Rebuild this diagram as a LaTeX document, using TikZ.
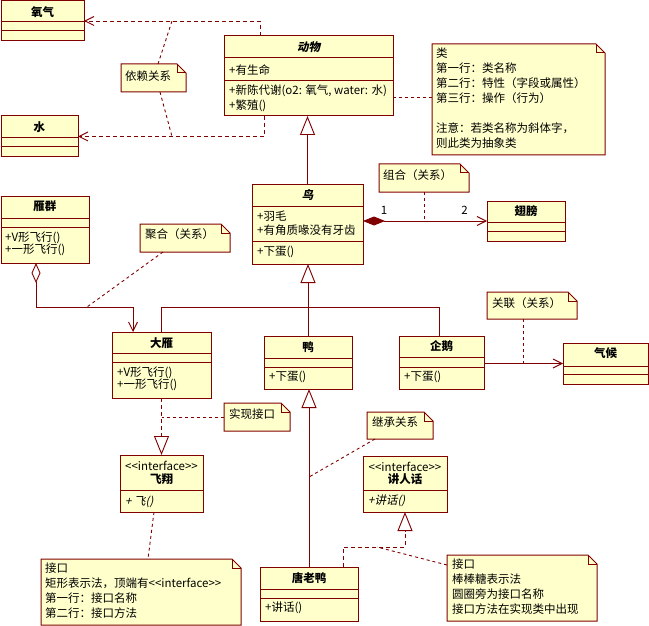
\documentclass[tikz,border=0pt]{standalone}
\usepackage{fontspec}
\setmainfont{Noto Sans CJK SC}
\newfontfamily\slantcjk{Noto Sans CJK SC}[FakeSlant=0.2]
\usetikzlibrary{arrows.meta,calc}

\definecolor{umlred}{RGB}{128,0,0}
\definecolor{umlfill}{RGB}{255,255,204}

\newcommand{\umlfont}{\fontsize{11.5}{15}\selectfont}

% class box: name, x, y, width, height, first divider, second divider
\newcommand{\umlclass}[7]{%
  \node[classbox, minimum width=#4, minimum height=#5] (#1) at (#2,#3) {};
  \draw[boxline] ($(#1.north west)+(0,#6)$) -- ($(#1.north east)+(0,#6)$);
  \draw[boxline] ($(#1.north west)+(0,#7)$) -- ($(#1.north east)+(0,#7)$);
}
% interface box: name, x, y, width, height, divider
\newcommand{\umliface}[6]{%
  \node[classbox, minimum width=#4, minimum height=#5] (#1) at (#2,#3) {};
  \draw[boxline] ($(#1.north west)+(0,#6)$) -- ($(#1.north east)+(0,#6)$);
}
% note with folded corner: name, x, y, width, height
\newcommand{\umlnote}[5]{%
  \node[notebox, minimum width=#4, minimum height=#5] (#1) at (#2,#3) {};
  \draw[boxline, fill=umlfill] (#1.north west) -- ($(#1.north east)+(-9,0)$)
    -- ($(#1.north east)+(0,9)$) -- (#1.south east) -- (#1.south west) -- cycle;
  \draw[boxline] ($(#1.north east)+(-9,0)$) |- ($(#1.north east)+(0,9)$);
}
% stereotype text without guillemet ligatures
\newcommand{\ifacetag}{<{}<interface>{}>}

\begin{document}
\begin{tikzpicture}[
    x=1pt, y=-1pt,
    line join=miter,
    boxline/.style={draw=umlred, line width=1pt},
    classbox/.style={boxline, fill=umlfill, anchor=north west, inner sep=0pt, outer sep=0pt},
    notebox/.style={anchor=north west, inner sep=0pt, outer sep=0pt},
    title/.style={font=\umlfont\bfseries, inner sep=0pt},
    abstitle/.style={font=\umlfont\slantcjk\bfseries, inner sep=0pt},
    member/.style={font=\umlfont, anchor=west, align=left, inner sep=0pt},
    slanted/.style={font=\umlfont\slantcjk},
    stereo/.style={font=\umlfont, inner sep=0pt},
    link/.style={draw=umlred, line width=0.9pt},
    notelink/.style={link, dash pattern=on 3pt off 3pt},
    assoc/.style={link, -{Straight Barb[length=9pt,width=9pt]}},
    depend/.style={assoc, dash pattern=on 4pt off 3pt},
    inherit/.style={link, -{Triangle[open,length=19pt,width=15pt]}},
    realize/.style={inherit, dash pattern=on 4pt off 3pt},
    compose/.style={link, {Diamond[length=22pt,width=9pt]}-{Straight Barb[length=9pt,width=9pt]}},
    aggregate/.style={link, {Diamond[open,length=20pt,width=9pt]}-{Straight Barb[length=9pt,width=9pt]}}
]
\useasboundingbox (0,0) rectangle (649,626);

% -------------------------------------------------
% Классы
% -------------------------------------------------

\umlclass{o2}{1}{1}{83}{40}{21}{30}
\umlclass{water}{1}{116}{77}{41}{22}{31}
\umlclass{animal}{224}{36}{169}{80}{22}{45}
\umlclass{bird}{252}{184}{111}{80}{22}{57}
\umlclass{wing}{487}{201}{78}{40}{21}{30}
\umlclass{flock}{1}{196}{88}{67}{22}{31}
\umlclass{goose}{112}{332}{99}{66}{21}{30}
\umlclass{duck}{264}{336}{88}{53}{22}{31}
\umlclass{penguin}{399}{336}{85}{53}{21}{31}
\umlclass{climate}{563}{343}{85}{41}{23}{31}
\umlclass{donald}{260}{567}{98}{54}{22}{31}

\umliface{fly}{120}{455}{83}{57}{35}
\umliface{speak}{363}{456}{84}{56}{34}

% -------------------------------------------------
% Примечания
% -------------------------------------------------

\umlnote{ndep}{121}{64}{65}{28}
\umlnote{ncls}{432}{44}{173}{111}
\umlnote{ncomp}{379}{164}{90}{28}
\umlnote{naggr}{140}{224}{90}{28}
\umlnote{nassoc}{487}{292}{90}{27}
\umlnote{nreal}{224}{403}{66}{28}
\umlnote{ninh}{367}{412}{66}{27}
\umlnote{nif1}{41}{559}{200}{66}
\umlnote{nif2}{447}{555}{150}{66}

% -------------------------------------------------
% Тексты классов
% -------------------------------------------------

\node[title] (o2-name) at ($(o2.north)+(0,11)$) {氧气};
\node[title] (water-name) at ($(water.north)+(0,11)$) {水};

\node[abstitle] (animal-name) at ($(animal.north)+(0,11)$) {动物};
\node[member] (animal-attr) at ($(animal.north west)+(5,34)$) {+有生命};
\node[member] (animal-ops) at ($(animal.north west)+(5,62)$) {+新陈代谢(o2: 氧气, water: 水)\\+繁殖()};

\node[abstitle] (bird-name) at ($(bird.north)+(0,11)$) {鸟};
\node[member] (bird-attr) at ($(bird.north west)+(5,39)$) {+羽毛\\[-1pt]+有角质喙没有牙齿};
\node[member] (bird-ops) at ($(bird.north west)+(5,68)$) {+下蛋()};

\node[title] (wing-name) at ($(wing.north)+(0,10)$) {翅膀};

\node[title] (flock-name) at ($(flock.north)+(0,10)$) {雁群};
\node[member] (flock-ops) at ($(flock.north west)+(4,48)$) {+V形飞行()\\[-3pt]+一形飞行()};

\node[title] (goose-name) at ($(goose.north)+(0,11)$) {大雁};
\node[member] (goose-ops) at ($(goose.north west)+(5,47)$) {+V形飞行()\\[-3pt]+一形飞行()};

\node[title] (duck-name) at ($(duck.north)+(0,11)$) {鸭};
\node[member] (duck-ops) at ($(duck.north west)+(5,41)$) {+下蛋()};

\node[title] (penguin-name) at ($(penguin.north)+(0,10)$) {企鹅};
\node[member] (penguin-ops) at ($(penguin.north west)+(5,41)$) {+下蛋()};

\node[title] (climate-name) at ($(climate.north)+(0,10)$) {气候};

\node[stereo] (fly-stereo) at ($(fly.north)+(0,11)$) {\ifacetag};
\node[title] (fly-name) at ($(fly.north)+(0,24)$) {飞翔};
\node[member, slanted] (fly-ops) at ($(fly.north west)+(5,47)$) {+ 飞()};

\node[stereo] (speak-stereo) at ($(speak.north)+(0,11)$) {\ifacetag};
\node[title] (speak-name) at ($(speak.north)+(0,23)$) {讲人话};
\node[member, slanted] (speak-ops) at ($(speak.north west)+(5,45)$) {+讲话()};

\node[title] (donald-name) at ($(donald.north)+(0,11)$) {唐老鸭};
\node[member] (donald-ops) at ($(donald.north west)+(5,41)$) {+讲话()};

% -------------------------------------------------
% Тексты примечаний
% -------------------------------------------------

\node[member] (ndep-text) at ($(ndep.north west)+(4,12)$) {依赖关系};
\node[member] (ncls-text) at ($(ncls.north west)+(4,54)$)
  {类\\第一行：类名称\\第二行：特性（字段或属性）\\第三行：操作（行为）\\[15pt]注意：若类名称为斜体字，\\则此类为抽象类};
\node[member] (ncomp-text) at ($(ncomp.north west)+(4,11)$) {组合（关系）};
\node[member] (naggr-text) at ($(naggr.north west)+(5,10)$) {聚合（关系）};
\node[member] (nassoc-text) at ($(nassoc.north west)+(5,11)$) {关联（关系）};
\node[member] (nreal-text) at ($(nreal.north west)+(5,11)$) {实现接口};
\node[member] (ninh-text) at ($(ninh.north west)+(5,10)$) {继承关系};
\node[member] (nif1-text) at ($(nif1.north west)+(4,32)$)
  {接口\\矩形表示法，顶端有\ifacetag\\第一行：接口名称\\第二行：接口方法};
\node[member] (nif2-text) at ($(nif2.north west)+(5,32)$)
  {接口\\棒棒糖表示法\\圆圈旁为接口名称\\接口方法在实现类中出现};

% -------------------------------------------------
% Зависимости
% -------------------------------------------------

\draw[depend] ($(animal.north west)+(36,0)$) |- (o2.east);
\draw[depend] ($(animal.south west)+(40,0)$) |- (water.east);

\coordinate (dep-top) at ($(o2.east)+(88,0)$);
\coordinate (dep-bot) at ($(water.east)+(94,0)$);
\draw[notelink] ($(ndep.north west)+(37,0)$) -- (dep-top);
\draw[notelink] ($(ndep.south west)+(39,0)$) -- (dep-bot);

\draw[notelink] ($(animal.south east)+(0,-19)$) -- ($(ncls.north west)+(0,53)$);

% -------------------------------------------------
% Наследование
% -------------------------------------------------

\draw[inherit] (bird.north) -- (bird.north |- animal.south);

\coordinate (bus) at ($(bird.south)+(0,43)$);
\draw[link] ($(goose.north west)+(49,0)$) |- (bus);
\draw[link] ($(penguin.north west)+(40,0)$) |- (bus);
\draw[inherit] (duck.north) -- (duck.north |- bird.south);

\draw[inherit] (donald.north) -- (donald.north |- duck.south);
\coordinate (inh-pt) at ($(donald.north)+(0,-90)$);
\draw[notelink] ($(ninh.south west)+(8,0)$) -- (inh-pt);

% -------------------------------------------------
% Композиция, агрегация, ассоциация
% -------------------------------------------------

\draw[compose] (bird.east |- wing.west) --
  node[pos=0.17, above=6pt, stereo] (mult-one) {1}
  node[pos=0.82, above=6pt, stereo] (mult-two) {2} (wing.west);
\coordinate (ncomp-foot) at ($(ncomp.south west)+(45,0)$);
\draw[notelink] (ncomp-foot) -- (ncomp-foot |- wing.west);

\draw[aggregate] ($(flock.south west)+(35,0)$) -- ++(0,44) -| ($(goose.north west)+(21,0)$);
\coordinate (aggr-pt) at ($(flock.south west)+(86,44)$);
\draw[notelink] ($(naggr.south west)+(23,0)$) -- (aggr-pt);

\draw[assoc] (penguin.east |- climate.west) -- (climate.west);
\coordinate (nassoc-foot) at ($(nassoc.south west)+(36,0)$);
\draw[notelink] (nassoc-foot) -- (nassoc-foot |- climate.west);

% -------------------------------------------------
% Реализация интерфейсов
% -------------------------------------------------

\draw[realize] (goose.south) -- (fly.north);
\draw[notelink] (nreal.west) -- (nreal.west -| goose.south);
\draw[notelink] ($(fly.south west)+(34,0)$) -- ($(nif1.north west)+(107,0)$);

\draw[realize] ($(donald.north west)+(83,0)$) -- ++(0,-20) -| (speak.south);
\coordinate (real-pt) at ($(donald.north west)+(117,-20)$);
\draw[notelink] ($(nif2.north west)+(0,10)$) -- (real-pt);

\end{tikzpicture}
\end{document}
